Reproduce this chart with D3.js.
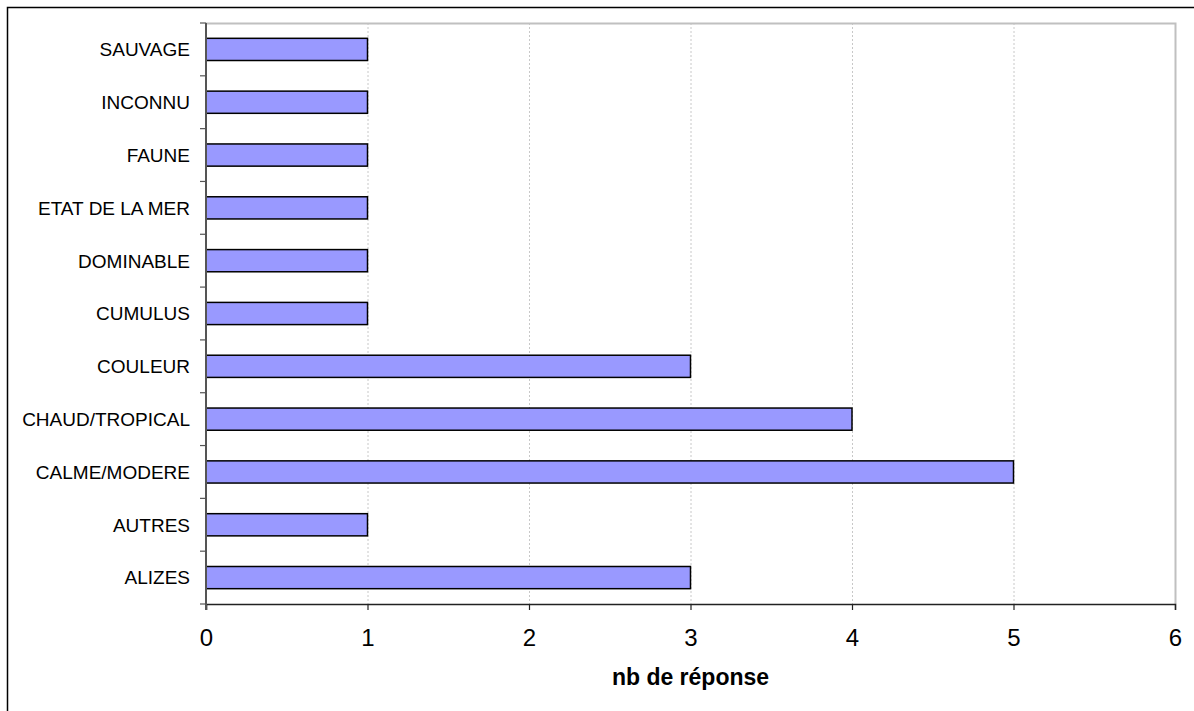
<!DOCTYPE html>
<html><head><meta charset="utf-8">
<script src="https://cdn.jsdelivr.net/npm/d3@7"></script>
<style>html,body{margin:0;padding:0;background:#fff;}svg{display:block;}</style>
</head><body>
<script>
const categories = ["SAUVAGE","INCONNU","FAUNE","ETAT DE LA MER","DOMINABLE","CUMULUS","COULEUR","CHAUD/TROPICAL","CALME/MODERE","AUTRES","ALIZES"];
const values = [1,1,1,1,1,1,3,4,5,1,3];
const xTicks = [0,1,2,3,4,5,6];
const xTitle = "nb de réponse";

const W = 1194, H = 711;
const m = {left:206, right:1175, top:23, bottom:604};
const svg = d3.select("body").append("svg").attr("width",W).attr("height",H);
const font = "Liberation Sans, Arial, sans-serif";

// outer frame
svg.append("rect").attr("x",7.5).attr("y",7.5).attr("width",W).attr("height",H)
  .attr("fill","none").attr("stroke","#000").attr("stroke-width",1.5);

const x = d3.scaleLinear().domain([0,6]).range([m.left,m.right]);
const y = d3.scaleBand().domain(categories).range([m.top,m.bottom]).paddingInner(0.58).paddingOuter(0.29);

// gridlines
svg.append("g").selectAll("line").data(xTicks.filter(d=>d>0&&d<6)).join("line")
  .attr("x1",d=>x(d)+0.5).attr("x2",d=>x(d)+0.5).attr("y1",m.top).attr("y2",m.bottom)
  .attr("stroke","#c8c8c8").attr("stroke-dasharray","2,2").attr("stroke-width",1);

// plot border top/right
svg.append("path").attr("d",`M${m.left},${m.top+0.5}H${m.right+0.5}V${m.bottom}`)
  .attr("fill","none").attr("stroke","#c0c0c0").attr("stroke-width",2);

// bars
svg.append("g").selectAll("rect").data(categories).join("rect")
  .attr("x",x(0)).attr("y",d=>y(d))
  .attr("width",(d,i)=>x(values[i])-x(0)).attr("height",y.bandwidth())
  .attr("fill","#9999ff").attr("stroke","#000").attr("stroke-width",1.5);

// x axis
const xa = svg.append("g").attr("transform",`translate(0,${m.bottom})`)
  .call(d3.axisBottom(x).tickValues(xTicks).tickSize(6).tickPadding(19).tickFormat(d3.format("d")));
xa.select(".domain").attr("stroke","#222").attr("stroke-width",1.5);
xa.selectAll(".tick line").attr("stroke","#222").attr("stroke-width",1.2);
xa.selectAll("text").attr("font-family",font).attr("font-size",24).attr("fill","#000");

// y axis
const bounds = d3.range(categories.length+1).map(i=>m.top + i*(m.bottom-m.top)/categories.length);
const ya = svg.append("g");
ya.append("line").attr("x1",m.left).attr("x2",m.left).attr("y1",m.top).attr("y2",m.bottom+6)
  .attr("stroke","#555").attr("stroke-width",2);
ya.selectAll("line.t").data(bounds).join("line").attr("class","t")
  .attr("x1",m.left-6).attr("x2",m.left).attr("y1",d=>d).attr("y2",d=>d)
  .attr("stroke","#555").attr("stroke-width",1.2);
ya.selectAll("text").data(categories).join("text")
  .attr("x",m.left-16).attr("y",d=>y(d)+y.bandwidth()/2).attr("dy","0.36em")
  .attr("text-anchor","end").attr("font-family",font).attr("font-size",19).attr("fill","#000")
  .text(d=>d);

// x title
svg.append("text").attr("x",(m.left+m.right)/2).attr("y",685)
  .attr("text-anchor","middle").attr("font-family",font).attr("font-weight","bold")
  .attr("font-size",23).text(xTitle);
</script>
</body></html>
